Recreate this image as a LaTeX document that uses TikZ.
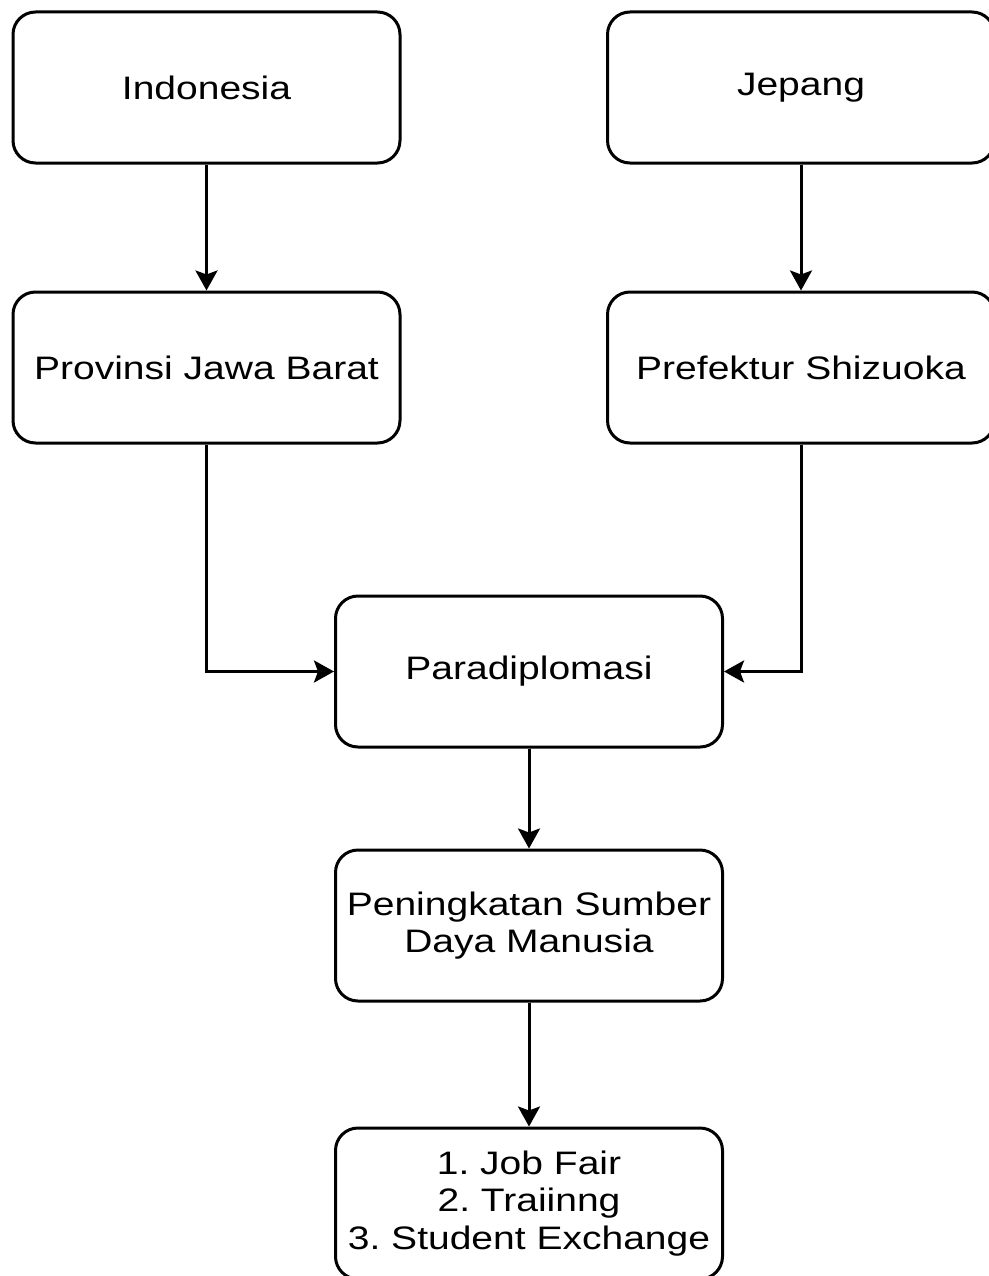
\documentclass[tikz,border=0pt]{standalone}
\usepackage{fontspec}
\setmainfont{Liberation Sans}[FakeStretch=1.2]
\usetikzlibrary{positioning,arrows.meta}
\tikzstyle{box}=[rectangle,rounded corners=0.45cm,minimum width=7.74cm,minimum height=3.02cm,text centered,align=center,draw=black,line width=0.06cm,font=\fontsize{18.5}{21.5}\selectfont\frenchspacing]
\tikzstyle{arr}=[line width=0.06cm,-{Stealth[length=0.4cm,width=0.44cm,inset=0.08cm]}]

\begin{document}
\begin{tikzpicture}
\useasboundingbox (0,0) rectangle (19.78,-25.52);
\node(indonesia)[box] at (4.13,-1.75){Indonesia};
\node(jepang)[box] at (16.02,-1.75){Jepang};
\node(provinsi)[box,below=2.52cm of indonesia]{Provinsi Jawa Barat};
\node(prefektur)[box,below=2.52cm of jepang]{Prefektur Shizuoka};
\node(paradiplomasi)[box] at (10.58,-13.43){Paradiplomasi};
\node(sdm)[box,below=2.0cm of paradiplomasi]{Peningkatan Sumber\\Daya Manusia};
\node(program)[box,below=2.48cm of sdm]{1. Job Fair\\2. Traiinng\\3. Student Exchange};
\draw[arr](indonesia)--(provinsi);
\draw[arr](jepang)--(prefektur);
\draw[arr](provinsi)|-(paradiplomasi);
\draw[arr](prefektur)|-(paradiplomasi);
\draw[arr](paradiplomasi)--(sdm);
\draw[arr](sdm)--(program);
\end{tikzpicture}
\end{document}
